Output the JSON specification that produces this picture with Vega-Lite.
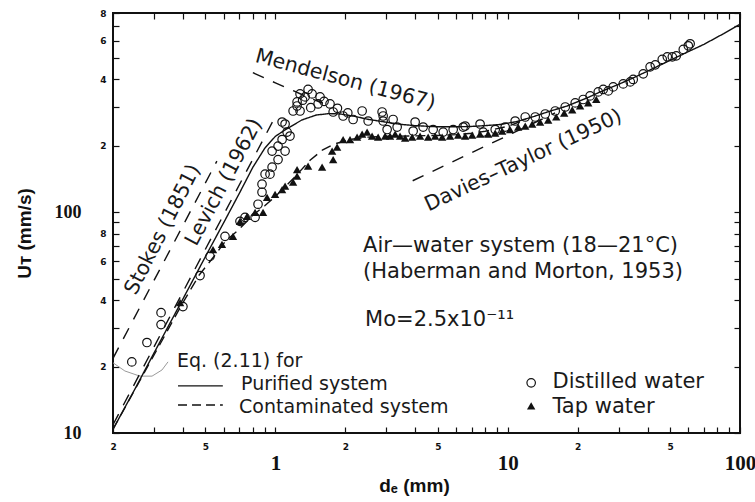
{
  "$schema": "https://vega.github.io/schema/vega-lite/v6.json",
  "width": 627,
  "height": 420,
  "autosize": {"type": "none"},
  "padding": {"left": 113, "top": 13, "right": 15, "bottom": 69},
  "background": "white",
  "config": {"view": {"stroke": "#111", "strokeWidth": 2}, "font": "DejaVu Sans"},
  "datasets": {
    "arc": [{"d":0.2,"u":20.8},{"d":0.225,"u":19.1},{"d":0.261,"u":18.1},{"d":0.2945,"u":18.1},{"d":0.325,"u":19.3},{"d":0.345,"u":21.0}],
    "curves": [
      {"s":"Purified system","d":0.2,"u":10.4},{"s":"Purified system","d":0.25,"u":16},{"s":"Purified system","d":0.3,"u":23},{"s":"Purified system","d":0.4,"u":40.5},{"s":"Purified system","d":0.5,"u":63},{"s":"Purified system","d":0.6,"u":90},{"s":"Purified system","d":0.7,"u":122},{"s":"Purified system","d":0.8,"u":160},{"s":"Purified system","d":0.9,"u":195},{"s":"Purified system","d":1.0,"u":221},{"s":"Purified system","d":1.12,"u":239},{"s":"Purified system","d":1.3,"u":262},{"s":"Purified system","d":1.5,"u":276},{"s":"Purified system","d":1.7,"u":280},{"s":"Purified system","d":1.9,"u":279},{"s":"Purified system","d":2.2,"u":272},{"s":"Purified system","d":2.5,"u":264},{"s":"Purified system","d":3.0,"u":256},{"s":"Purified system","d":3.5,"u":250},{"s":"Purified system","d":4.0,"u":247},{"s":"Purified system","d":5.0,"u":244},{"s":"Purified system","d":6.0,"u":244},{"s":"Purified system","d":7.0,"u":245},{"s":"Purified system","d":8.0,"u":247},{"s":"Purified system","d":9.3,"u":250},{"s":"Purified system","d":11,"u":258},{"s":"Purified system","d":13,"u":272},{"s":"Purified system","d":15,"u":286},{"s":"Purified system","d":18,"u":303},{"s":"Purified system","d":22,"u":330},{"s":"Purified system","d":25,"u":351},{"s":"Purified system","d":30,"u":380},{"s":"Purified system","d":35,"u":408},{"s":"Purified system","d":42,"u":447},{"s":"Purified system","d":50,"u":488},{"s":"Purified system","d":60,"u":535},{"s":"Purified system","d":70,"u":577},{"s":"Purified system","d":85,"u":645},{"s":"Purified system","d":100,"u":712},
      {"s":"Contaminated system","d":0.2,"u":10.4},{"s":"Contaminated system","d":0.3,"u":22.5},{"s":"Contaminated system","d":0.4,"u":39},{"s":"Contaminated system","d":0.47,"u":52},{"s":"Contaminated system","d":0.55,"u":64},{"s":"Contaminated system","d":0.61,"u":74},{"s":"Contaminated system","d":0.7,"u":84},{"s":"Contaminated system","d":0.8,"u":97},{"s":"Contaminated system","d":0.9,"u":107},{"s":"Contaminated system","d":1.0,"u":118},{"s":"Contaminated system","d":1.2,"u":143},{"s":"Contaminated system","d":1.41,"u":172},{"s":"Contaminated system","d":1.6,"u":192},{"s":"Contaminated system","d":1.8,"u":204},{"s":"Contaminated system","d":2.1,"u":214},{"s":"Contaminated system","d":2.5,"u":219},{"s":"Contaminated system","d":3.0,"u":221},{"s":"Contaminated system","d":4.0,"u":222},{"s":"Contaminated system","d":5.0,"u":223},{"s":"Contaminated system","d":6.0,"u":225},{"s":"Contaminated system","d":7.0,"u":228},{"s":"Contaminated system","d":8.0,"u":233},{"s":"Contaminated system","d":10,"u":245},{"s":"Contaminated system","d":12,"u":264},
      {"s":"Stokes","d":0.2,"u":21.8},{"s":"Stokes","d":0.56,"u":170.6},
      {"s":"Levich","d":0.2,"u":10.9},{"s":"Levich","d":1.0,"u":272},
      {"s":"Mendelson","d":0.8,"u":429},{"s":"Mendelson","d":1.0,"u":386},{"s":"Mendelson","d":1.2,"u":355},{"s":"Mendelson","d":1.4,"u":330},{"s":"Mendelson","d":1.6,"u":312},
      {"s":"Davies-Taylor","d":3.9,"u":139},{"s":"Davies-Taylor","d":16,"u":282},
      {"s":"key purified","d":0.381,"u":16.35},{"s":"key purified","d":0.594,"u":16.35},
      {"s":"key contaminated","d":0.381,"u":13.4},{"s":"key contaminated","d":0.594,"u":13.4}
    ],
    "distilled": [
      {"d":0.241,"u":21.0},{"d":0.280,"u":25.7},{"d":0.322,"u":31.0},{"d":0.322,"u":35.1},{"d":0.400,"u":37.4},{"d":0.474,"u":51.7},{"d":0.523,"u":63.1},{"d":0.607,"u":77.8},{"d":0.704,"u":91.0},{"d":0.740,"u":94.9},{"d":0.818,"u":94.9},{"d":0.842,"u":108.8},{"d":0.876,"u":123.3},{"d":0.876,"u":134.1},{"d":0.903,"u":148.9},{"d":0.948,"u":148.9},{"d":0.968,"u":160.1},{"d":1.027,"u":173.4},{"d":1.101,"u":189.4},{"d":1.027,"u":199.5},{"d":0.968,"u":189.4},{"d":1.069,"u":213.7},{"d":1.123,"u":231.0},{"d":1.101,"u":251.2},{"d":1.156,"u":221.6},{"d":1.192,"u":287.8},{"d":1.240,"u":303.2},{"d":1.069,"u":256.5},{"d":1.383,"u":360.3},{"d":1.277,"u":343.9},{"d":1.240,"u":316.2},{"d":1.277,"u":287.8},{"d":1.343,"u":333.2},{"d":1.439,"u":343.9},{"d":1.557,"u":333.2},{"d":1.527,"u":309.7},{"d":1.31,"u":322},{"d":1.42,"u":298},{"d":1.62,"u":318},{"d":1.85,"u":296},{"d":2.05,"u":282},{"d":1.719,"u":309.7},{"d":1.773,"u":284.8},{"d":1.957,"u":273.1},{"d":2.161,"u":263.3},{"d":2.363,"u":287.8},{"d":2.508,"u":259.2},{"d":2.910,"u":273.1},{"d":2.910,"u":259.2},{"d":2.880,"u":284.8},{"d":3.212,"u":263.3},{"d":3.027,"u":237.2},{"d":3.343,"u":243.4},{"d":3.996,"u":256.5},{"d":3.918,"u":233.5},{"d":4.326,"u":243.4},{"d":4.777,"u":237.2},{"d":5.276,"u":231.0},{"d":5.826,"u":237.2},{"d":6.434,"u":243.4},{"d":6.56,"u":246.0},{"d":7.606,"u":251.2},{"d":7.845,"u":231.0},{"d":8.836,"u":237.2},{"d":9.755,"u":243.4},{"d":10.77,"u":259.2},{"d":11.90,"u":270.3},{"d":13.14,"u":270.3},{"d":14.51,"u":278.9},{"d":16.02,"u":287.8},{"d":17.69,"u":300.1},{"d":19.53,"u":313.0},{"d":21.14,"u":324.5},{"d":22.63,"u":336.7},{"d":24.54,"u":351.3},{"d":25.78,"u":360.3},{"d":27.10,"u":354.8},{"d":28.46,"u":370.0},{"d":31.43,"u":381.8},{"d":33.70,"u":389.9},{"d":34.70,"u":399.9},{"d":38.33,"u":424.0},{"d":41.03,"u":456.2},{"d":43.18,"u":465.9},{"d":46.27,"u":492.9},{"d":48.64,"u":506.4},{"d":51.12,"u":506.4},{"d":53.17,"u":511.8},{"d":57.00,"u":547.1},{"d":59.90,"u":568.2},{"d":61.0,"u":580.2}
    ],
    "tap": [
      {"d":0.389,"u":39.0},{"d":0.539,"u":67.7},{"d":0.589,"u":71.5},{"d":0.657,"u":77.8},{"d":0.704,"u":91.0},{"d":0.755,"u":95.9},{"d":0.818,"u":100},{"d":0.885,"u":100},{"d":0.921,"u":117.0},{"d":0.997,"u":120.7},{"d":1.069,"u":126.7},{"d":1.101,"u":131.3},{"d":1.192,"u":136.9},{"d":1.240,"u":145.8},{"d":1.240,"u":156.2},{"d":1.383,"u":161.9},{"d":1.589,"u":160.1},{"d":1.773,"u":173.4},{"d":1.755,"u":189.4},{"d":1.844,"u":197.5},{"d":1.957,"u":213.7},{"d":2.096,"u":213.7},{"d":2.248,"u":219.3},{"d":2.363,"u":226.3},{"d":2.482,"u":231.0},{"d":2.608,"u":221.6},{"d":2.769,"u":219.3},{"d":2.968,"u":221.6},{"d":3.116,"u":221.6},{"d":3.278,"u":226.3},{"d":3.441,"u":221.6},{"d":3.618,"u":217.0},{"d":3.880,"u":219.3},{"d":4.196,"u":221.6},{"d":4.546,"u":219.3},{"d":4.873,"u":221.6},{"d":5.224,"u":219.3},{"d":5.649,"u":221.6},{"d":6.121,"u":223.9},{"d":6.56,"u":221.6},{"d":7.034,"u":223.9},{"d":7.606,"u":226.3},{"d":8.242,"u":226.3},{"d":8.836,"u":228.7},{"d":9.468,"u":233.5},{"d":10.24,"u":237.2},{"d":11.10,"u":243.4},{"d":11.90,"u":246.0},{"d":12.75,"u":251.2},{"d":13.79,"u":256.5},{"d":14.94,"u":261.9},{"d":16.18,"u":270.3},{"d":17.51,"u":281.8},{"d":18.96,"u":290.8},{"d":20.50,"u":303.2},{"d":22.22,"u":313.0},{"d":24.06,"u":324.5}
    ],
    "keycircle": [{"d":12.62,"u":16.88}],
    "keytriangle": [{"d":12.62,"u":13.27}],
    "rotlabels": [
      {"t":"Stokes (1851)","d":0.328,"u":83.5},
      {"t":"Levich (1962)","d":0.601,"u":136.9},
      {"t":"Mendelson (1967)","d":2.0,"u":398},
      {"t":"Davies–Taylor (1950)","d":11.68,"u":171.6}
    ],
    "notes": [
      {"t":"Air—water system (18—21°C)","d":2.386,"u":65.8},
      {"t":"(Haberman and Morton, 1953)","d":2.386,"u":50.65},
      {"t":"Mo=2.5x10⁻¹¹","d":2.434,"u":30.68},
      {"t":"Distilled water","d":15.59,"u":15.95},
      {"t":"Tap water","d":15.59,"u":12.33}
    ],
    "keynotes": [
      {"t":"Eq. (2.11) for","d":0.377,"u":19.95},
      {"t":"Purified system","d":0.712,"u":15.69},
      {"t":"Contaminated system","d":0.698,"u":12.33}
    ]
  },
  "resolve": {"axis": {"x": "independent", "y": "independent"}},
  "layer": [
    {
      "data": {"name": "arc"},
      "mark": {"type": "line", "color": "#9a9a9a", "strokeWidth": 1, "clip": true},
      "encoding": {
        "x": {"field": "d", "type": "quantitative", "scale": {"type": "log", "domain": [0.2, 100], "nice": false}, "axis": null},
        "y": {"field": "u", "type": "quantitative", "scale": {"type": "log", "domain": [10, 800], "nice": false}, "axis": null}
      }
    },
    {
      "data": {"name": "curves"},
      "mark": {"type": "line", "color": "#111", "strokeWidth": 1.4, "clip": true},
      "encoding": {
        "x": {"field": "d", "type": "quantitative", "scale": {"type": "log", "domain": [0.2, 100], "nice": false},
          "axis": {
            "orient": "bottom", "offset": -6, "domain": false, "grid": false,
            "values": [0.2,0.3,0.4,0.5,0.6,0.7,0.8,0.9,1,2,3,4,5,6,7,8,9,10,20,30,40,50,60,70,80,90,100],
            "tickSize": 6, "tickColor": "#111", "tickWidth": 1.2,
            "labelExpr": "datum.value==1?'1':datum.value==10?'10':datum.value==100?'100':(datum.value==0.2||datum.value==2||datum.value==20)?'2':(datum.value==0.5||datum.value==5||datum.value==50)?'5':''",
            "labelFlush": false, "labelOverlap": false, "labelBound": false,
            "labelFont": {"condition": {"test": "datum.value==1||datum.value==10||datum.value==100", "value": "Liberation Serif"}, "value": "DejaVu Sans"},
            "labelFontSize": {"condition": {"test": "datum.value==1||datum.value==10||datum.value==100", "value": 21}, "value": 9},
            "labelPadding": {"condition": {"test": "datum.value==1||datum.value==10||datum.value==100", "value": 19}, "value": 9},
            "labelFontWeight": "bold", "labelColor": "#111",
            "title": "dₑ (mm)", "titleFont": "Liberation Sans, DejaVu Sans", "titleFontSize": 19, "titleFontWeight": "bold", "titleColor": "#111",
            "titleX": 301, "titleY": 58, "titleBaseline": "middle", "titleAlign": "center"
          }
        },
        "y": {"field": "u", "type": "quantitative", "scale": {"type": "log", "domain": [10, 800], "nice": false},
          "axis": {
            "orient": "left", "offset": -6, "domain": false, "grid": false,
            "values": [10,20,30,40,50,60,70,80,90,100,200,300,400,500,600,700,800],
            "tickSize": 6, "tickColor": "#111", "tickWidth": 1.2,
            "labelExpr": "datum.value==10?'10':datum.value==100?'100':(datum.value==20||datum.value==200)?'2':(datum.value==40||datum.value==400)?'4':(datum.value==60||datum.value==600)?'6':(datum.value==80||datum.value==800)?'8':''",
            "labelFlush": false, "labelOverlap": false, "labelBound": false,
            "labelFont": {"condition": {"test": "datum.value==10||datum.value==100", "value": "Liberation Serif"}, "value": "DejaVu Sans"},
            "labelFontSize": {"condition": {"test": "datum.value==10||datum.value==100", "value": 18}, "value": 9},
            "labelPadding": {"condition": {"test": "datum.value==10||datum.value==100", "value": 32}, "value": 7},
            "labelFontWeight": "bold", "labelColor": "#111",
            "title": "Uᴛ (mm/s)", "titleFont": "Liberation Sans, DejaVu Sans", "titleFontSize": 19, "titleFontWeight": "bold", "titleColor": "#111",
            "titleX": -95, "titleY": 220, "titleAngle": -90, "titleBaseline": "middle", "titleAlign": "center"
          }
        },
        "detail": {"field": "s"},
        "strokeDash": {"field": "s", "type": "nominal", "legend": null,
          "scale": {"domain": ["Purified system","Contaminated system","Stokes","Levich","Mendelson","Davies-Taylor","key purified","key contaminated"],
                    "range": [[1,0],[10,6],[12,10],[12,10],[12,10],[12,10],[1,0],[9,5]]}}
      }
    },
    {
      "data": {"name": "distilled"},
      "mark": {"type": "point", "shape": "circle", "filled": false, "color": "#111", "strokeWidth": 1.2, "size": 72, "opacity": 1},
      "encoding": {
        "x": {"field": "d", "type": "quantitative", "scale": {"type": "log", "domain": [0.2, 100], "nice": false},
          "axis": {"orient": "top", "offset": -6, "domain": false, "grid": false, "labels": false, "title": null,
            "values": [0.2,0.3,0.4,0.5,0.6,0.7,0.8,0.9,1,2,3,4,5,6,7,8,9,10,20,30,40,50,60,70,80,90,100],
            "tickSize": 6, "tickColor": "#111", "tickWidth": 1.2}},
        "y": {"field": "u", "type": "quantitative", "scale": {"type": "log", "domain": [10, 800], "nice": false},
          "axis": {"orient": "right", "offset": -6, "domain": false, "grid": false, "labels": false, "title": null,
            "values": [10,20,30,40,50,60,70,80,90,100,200,300,400,500,600,700,800],
            "tickSize": 6, "tickColor": "#111", "tickWidth": 1.2}}
      }
    },
    {
      "data": {"name": "keycircle"},
      "mark": {"type": "point", "shape": "circle", "filled": false, "color": "#111", "strokeWidth": 1.2, "size": 72, "opacity": 1},
      "encoding": {
        "x": {"field": "d", "type": "quantitative", "scale": {"type": "log", "domain": [0.2, 100], "nice": false}, "axis": null},
        "y": {"field": "u", "type": "quantitative", "scale": {"type": "log", "domain": [10, 800], "nice": false}, "axis": null}
      }
    },
    {
      "data": {"name": "tap"},
      "mark": {"type": "point", "shape": "triangle-up", "filled": true, "color": "#111", "size": 70, "opacity": 1},
      "encoding": {
        "x": {"field": "d", "type": "quantitative", "scale": {"type": "log", "domain": [0.2, 100], "nice": false}, "axis": null},
        "y": {"field": "u", "type": "quantitative", "scale": {"type": "log", "domain": [10, 800], "nice": false}, "axis": null}
      }
    },
    {
      "data": {"name": "keytriangle"},
      "mark": {"type": "point", "shape": "triangle-up", "filled": true, "color": "#111", "size": 70, "opacity": 1},
      "encoding": {
        "x": {"field": "d", "type": "quantitative", "scale": {"type": "log", "domain": [0.2, 100], "nice": false}, "axis": null},
        "y": {"field": "u", "type": "quantitative", "scale": {"type": "log", "domain": [10, 800], "nice": false}, "axis": null}
      }
    },
    {
      "data": {"name": "rotlabels"},
      "transform": [{"filter": "datum.t=='Stokes (1851)'"}],
      "mark": {"type": "text", "align": "center", "baseline": "middle", "font": "DejaVu Sans", "fontSize": 20.5, "color": "#1a1a1a", "angle": -63},
      "encoding": {
        "x": {"field": "d", "type": "quantitative", "scale": {"type": "log", "domain": [0.2, 100], "nice": false}, "axis": null},
        "y": {"field": "u", "type": "quantitative", "scale": {"type": "log", "domain": [10, 800], "nice": false}, "axis": null},
        "text": {"field": "t"}
      }
    },
    {
      "data": {"name": "rotlabels"},
      "transform": [{"filter": "datum.t=='Levich (1962)'"}],
      "mark": {"type": "text", "align": "center", "baseline": "middle", "font": "DejaVu Sans", "fontSize": 20.5, "color": "#1a1a1a", "angle": -62},
      "encoding": {
        "x": {"field": "d", "type": "quantitative", "scale": {"type": "log", "domain": [0.2, 100], "nice": false}, "axis": null},
        "y": {"field": "u", "type": "quantitative", "scale": {"type": "log", "domain": [10, 800], "nice": false}, "axis": null},
        "text": {"field": "t"}
      }
    },
    {
      "data": {"name": "rotlabels"},
      "transform": [{"filter": "datum.t=='Mendelson (1967)'"}],
      "mark": {"type": "text", "align": "center", "baseline": "middle", "font": "DejaVu Sans", "fontSize": 20.5, "color": "#1a1a1a", "angle": 15},
      "encoding": {
        "x": {"field": "d", "type": "quantitative", "scale": {"type": "log", "domain": [0.2, 100], "nice": false}, "axis": null},
        "y": {"field": "u", "type": "quantitative", "scale": {"type": "log", "domain": [10, 800], "nice": false}, "axis": null},
        "text": {"field": "t"}
      }
    },
    {
      "data": {"name": "rotlabels"},
      "transform": [{"filter": "datum.t=='Davies–Taylor (1950)'"}],
      "mark": {"type": "text", "align": "center", "baseline": "middle", "font": "DejaVu Sans", "fontSize": 20.5, "color": "#1a1a1a", "angle": -25},
      "encoding": {
        "x": {"field": "d", "type": "quantitative", "scale": {"type": "log", "domain": [0.2, 100], "nice": false}, "axis": null},
        "y": {"field": "u", "type": "quantitative", "scale": {"type": "log", "domain": [10, 800], "nice": false}, "axis": null},
        "text": {"field": "t"}
      }
    },
    {
      "data": {"name": "notes"},
      "mark": {"type": "text", "align": "left", "baseline": "alphabetic", "font": "DejaVu Sans", "fontSize": 21, "color": "#1a1a1a"},
      "encoding": {
        "x": {"field": "d", "type": "quantitative", "scale": {"type": "log", "domain": [0.2, 100], "nice": false}, "axis": null},
        "y": {"field": "u", "type": "quantitative", "scale": {"type": "log", "domain": [10, 800], "nice": false}, "axis": null},
        "text": {"field": "t"}
      }
    },
    {
      "data": {"name": "keynotes"},
      "mark": {"type": "text", "align": "left", "baseline": "alphabetic", "font": "DejaVu Sans", "fontSize": 19, "color": "#1a1a1a"},
      "encoding": {
        "x": {"field": "d", "type": "quantitative", "scale": {"type": "log", "domain": [0.2, 100], "nice": false}, "axis": null},
        "y": {"field": "u", "type": "quantitative", "scale": {"type": "log", "domain": [10, 800], "nice": false}, "axis": null},
        "text": {"field": "t"}
      }
    }
  ]
}
